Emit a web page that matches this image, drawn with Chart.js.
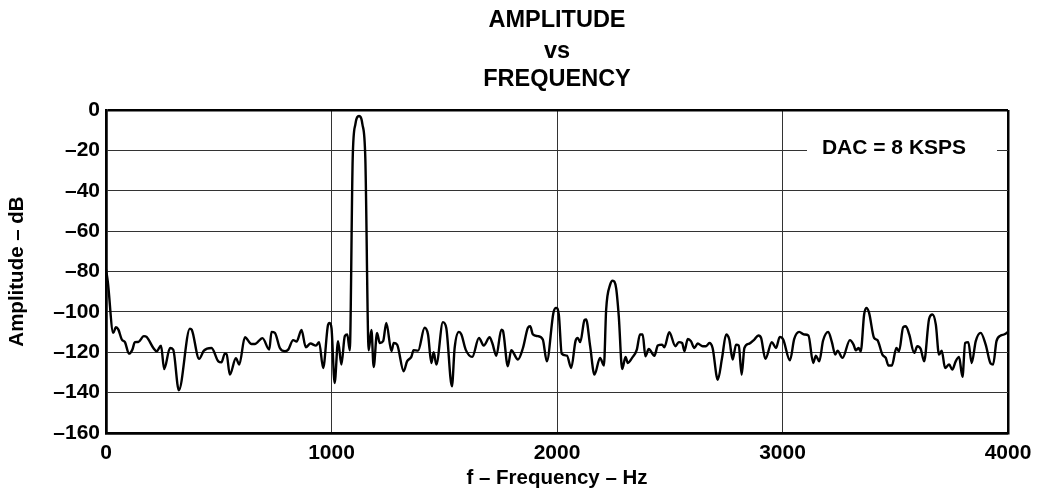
<!DOCTYPE html>
<html>
<head>
<meta charset="utf-8">
<script src="https://cdn.jsdelivr.net/npm/chart.js@4/dist/chart.umd.min.js"></script>
<style>
  body { margin: 0; background: #fff; }
</style>
</head>
<body>
<canvas id="fft-chart" width="1040" height="500"></canvas>
<script>
// spectrum: frequency (Hz) and amplitude (dB)
const freqHz = [
  0, 8, 32, 44, 55, 70, 84, 102, 117, 128, 143, 168, 180, 210, 225, 244, 258, 284, 298, 323,
  372, 380, 413, 434, 468, 498, 512, 527, 535, 549, 576, 591, 616, 645, 660, 694, 724, 734, 749, 771,
  793, 808, 830, 845, 867, 886, 907, 931, 945, 963, 985, 992, 1000, 1014, 1029, 1044, 1059, 1070, 1081, 1094,
  1106, 1122, 1137, 1150, 1165, 1177, 1187, 1202, 1214, 1229, 1243, 1266, 1276, 1291, 1320, 1335, 1354, 1364, 1384, 1413,
  1428, 1443, 1453, 1465, 1494, 1509, 1534, 1546, 1565, 1576, 1595, 1624, 1654, 1675, 1701, 1713, 1731, 1753, 1760, 1782,
  1797, 1827, 1849, 1871, 1881, 1893, 1915, 1937, 1955, 1984, 1996, 2008, 2021, 2044, 2063, 2082, 2092, 2103, 2122, 2129,
  2147, 2166, 2191, 2208, 2218, 2236, 2247, 2262, 2274, 2289, 2304, 2314, 2333, 2354, 2368, 2380, 2392, 2407, 2432, 2447,
  2466, 2476, 2498, 2525, 2540, 2555, 2565, 2580, 2594, 2609, 2624, 2646, 2661, 2676, 2690, 2713, 2732, 2750, 2764, 2779,
  2794, 2806, 2819, 2831, 2853, 2875, 2893, 2905, 2924, 2953, 2971, 2988, 3003, 3033, 3052, 3074, 3096, 3115, 3136, 3148,
  3163, 3180, 3203, 3219, 3234, 3244, 3266, 3299, 3315, 3325, 3337, 3347, 3362, 3372, 3384, 3406, 3421, 3443, 3458, 3470,
  3485, 3505, 3517, 3535, 3547, 3562, 3584, 3598, 3613, 3628, 3650, 3665, 3680, 3694, 3706, 3721, 3739, 3753, 3768, 3783,
  3798, 3810, 3824, 3839, 3857, 3879, 3901, 3923, 3934, 3949, 3968, 3982, 4000
];
const ampDb = [
  -79, -85, -110.4, -107.6, -108.8, -113.7, -115, -120.7, -118.7, -115, -114.9, -112, -112.4, -117.9, -119.5, -116.7, -128.3, -117.9, -118.7, -138.8,
  -108.3, -108.8, -123.3, -119.2, -117.9, -124.5, -125, -120.7, -121, -131.1, -123, -126.1, -112.6, -115.9, -115.9, -113, -118.7, -109.9, -110.4, -117.9,
  -119.5, -118.7, -114, -114.7, -109, -117.5, -115.7, -116.7, -115, -127.8, -106.3, -105.5, -108, -135.2, -114.5, -126.1, -112, -111.2, -119, -24,
  -7, -3, -7, -24, -119, -109, -127.3, -110.4, -115.4, -114.5, -105.5, -119.5, -115.4, -116.2, -129.4, -124.5, -122.3, -119, -119.2, -107.9,
  -111.2, -125.3, -120, -126.1, -105.1, -108, -136.9, -117.9, -109.9, -111.2, -118.7, -122.3, -112.9, -116.7, -112.6, -115.4, -121.7, -108.8, -109.3, -126.9,
  -119, -123.6, -117.9, -107.9, -107.1, -111.2, -112, -113.7, -124.5, -100.5, -98, -101.3, -120.7, -121.7, -127.8, -114.5, -112.9, -115, -104.1, -103.8,
  -117, -131.1, -122.8, -126.6, -98.8, -86.4, -84.5, -88.1, -102.2, -128.3, -122.3, -125.3, -122.8, -118.7, -111.2, -111.2, -122, -118.4, -121.7, -116.7,
  -116.2, -117.5, -110.1, -117, -115, -115.4, -119.5, -113.4, -114.5, -117.9, -115.7, -117, -117, -115.4, -117.9, -133.6, -122.8, -111.2, -113.7, -123.6,
  -116.2, -116.7, -131.1, -117.9, -115.7, -113.7, -111.7, -112.9, -123.3, -115, -117.9, -112.4, -113.7, -124, -113.4, -109.9, -111.2, -111.7, -125.3, -121.7,
  -124.5, -114.2, -109.9, -115, -121.2, -119.2, -122.8, -114, -116.2, -119, -117.9, -119.5, -101.3, -98, -100.5, -112.9, -114, -121.2, -122.8, -126.6,
  -126.6, -117.9, -119.5, -107.6, -107.1, -111.2, -120.3, -117, -118.4, -124.5, -103.5, -101.3, -106.3, -121.2, -119.2, -127.8, -126.1, -128.6, -124.5, -122.3,
  -132.2, -115.4, -115, -125.3, -114.5, -110.4, -116.2, -125.6, -126.1, -114.5, -111.7, -111.2, -110
];
const titleLines = ['AMPLITUDE', 'vs', 'FREQUENCY'];
const noteText = 'DAC = 8 KSPS';

const FONT = '"Liberation Sans", Arial, sans-serif';

// title lines and the boxed note inside the plot
const textPlugin = {
  id: 'texts',
  afterDatasetsDraw(chart) {
    const ctx = chart.ctx;
    const area = chart.chartArea;
    const y = chart.scales.y;
    ctx.save();
    // note sits on the -20 line, with white behind it
    const ny = y.getPixelForValue(-20);
    ctx.fillStyle = '#fff';
    ctx.fillRect(807, ny - 10, 190, 20);
    ctx.fillStyle = '#000';
    ctx.font = 'bold 21px ' + FONT;
    ctx.textAlign = 'center';
    ctx.textBaseline = 'alphabetic';
    ctx.fillText(noteText, 894, ny + 3.5);
    // title
    const cx = (area.left + area.right) / 2;
    ctx.font = 'bold 23.5px ' + FONT;
    const baselines = [27, 57.5, 86];
    titleLines.forEach((t, i) => ctx.fillText(t, cx, baselines[i]));
    ctx.restore();
  }
};

const edgeWidth = (ctx, lo, hi) => (ctx.tick && (ctx.tick.value === lo || ctx.tick.value === hi)) ? 2.5 : 1;
const edgeColor = (ctx, lo, hi) => (ctx.tick && (ctx.tick.value === lo || ctx.tick.value === hi)) ? '#000' : '#333';

new Chart(document.querySelector('#fft-chart').getContext('2d'), {
  type: 'line',
  data: {
    datasets: [{
      data: freqHz.map((f, i) => ({x: f, y: ampDb[i]})),
      borderColor: '#000',
      borderWidth: 2.4,
      pointRadius: 0,
      cubicInterpolationMode: 'monotone',
      fill: false
    }]
  },
  options: {
    responsive: false,
    animation: false,
    devicePixelRatio: 1,
    layout: { padding: { top: 110, right: 32, left: 0, bottom: 0 } },
    plugins: {
      legend: { display: false },
      tooltip: { enabled: false },
      title: { display: false }
    },
    scales: {
      x: {
        type: 'linear',
        min: 0,
        max: 4000,
        afterFit: s => { s.height = 67; },
        ticks: {
          stepSize: 1000,
          autoSkip: false,
          padding: 8,
          color: '#000',
          font: { family: FONT, size: 21, weight: 'bold' },
          maxRotation: 0,
          callback: v => String(v)
        },
        grid: {
          drawTicks: false,
          color: c => edgeColor(c, 0, 4000),
          lineWidth: c => edgeWidth(c, 0, 4000)
        },
        border: { display: true, color: '#000', width: 2.5 },
        title: {
          display: true,
          text: 'f – Frequency – Hz',
          color: '#000',
          font: { family: FONT, size: 20.5, weight: 'bold' },
          padding: { top: 0, bottom: 9 }
        }
      },
      y: {
        min: -160,
        max: 0,
        afterFit: s => { s.width = 106; },
        ticks: {
          stepSize: 20,
          autoSkip: false,
          padding: 6,
          color: '#000',
          font: { family: FONT, size: 21, weight: 'bold' },
          callback: v => v < 0 ? '–' + Math.abs(v) : String(v)
        },
        grid: {
          drawTicks: false,
          color: c => edgeColor(c, -160, 0),
          lineWidth: c => edgeWidth(c, -160, 0)
        },
        border: { display: true, color: '#000', width: 2.5 },
        title: {
          display: true,
          text: 'Amplitude – dB',
          color: '#000',
          font: { family: FONT, size: 20.5, weight: 'bold' },
          padding: { top: 5, bottom: 0 }
        }
      }
    }
  },
  plugins: [textPlugin]
});
</script>
</body>
</html>
